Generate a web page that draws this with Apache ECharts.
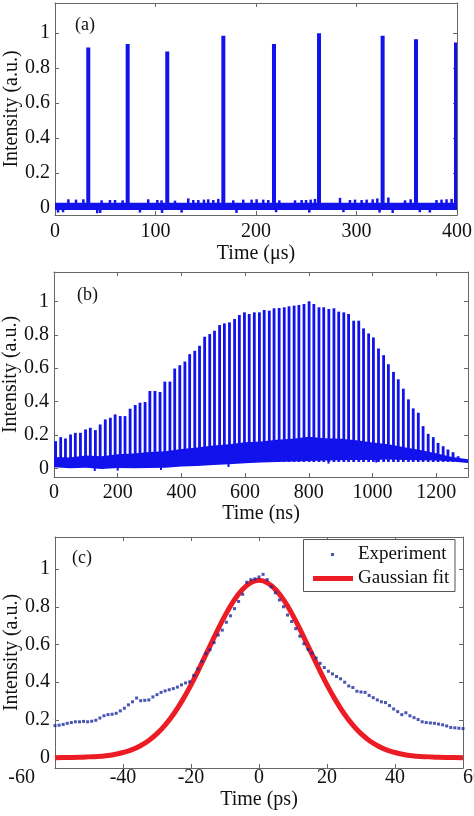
<!DOCTYPE html>
<html><head><meta charset="utf-8">
<script src="https://cdn.jsdelivr.net/npm/echarts@6/dist/echarts.min.js"></script>
<style>html,body{margin:0;padding:0;background:#fff}#c{width:474px;height:816px}</style>
</head><body><div id="c"></div>
<script>
// ---------------- Panel (a) data ----------------
const aXTicks = [0, 100, 200, 300, 400];
const aSpikeTime = [33.1, 72.3, 111.7, 167.5, 217.9, 262.7, 326.0, 359.2, 399.0];
const aSpikePeak = [0.918, 0.939, 0.895, 0.985, 0.939, 1.0, 0.985, 0.966, 0.947];
const aBand = [[0, 400, -0.012, 0.03]];
const aBumps = [[13.3,0.05],[20.9,0.048],[28.2,0.05],[46.4,0.044],[54.7,0.046],[59.7,0.046],[67.3,0.044],[92.8,0.05],[101.8,0.046],[106.0,0.044],[119.4,0.042],[132.6,0.055],[137.6,0.046],[142.6,0.046],[148.2,0.048],[152.5,0.05],[157.5,0.046],[162.5,0.052],[177.4,0.044],[187.3,0.048],[195.6,0.048],[200.6,0.05],[207.2,0.048],[212.2,0.046],[223.2,0.044],[238.8,0.044],[245.4,0.046],[249.8,0.046],[254.4,0.048],[258.7,0.052],[283.6,0.058],[293.5,0.046],[298.5,0.048],[305.1,0.046],[310.1,0.048],[316.1,0.05],[320.7,0.055],[331.7,0.06],[348.3,0.044],[353.9,0.05],[379.6,0.046],[384.6,0.048],[389.6,0.05],[394.6,0.052]];
const aDips = [[3,-0.026],[8,-0.024],[42,-0.03],[45,-0.028],[84.5,-0.026],[106.5,-0.028],[126,-0.026],[180.6,-0.028],[220,-0.024],[253,-0.026],[287,-0.024],[323,-0.026],[336,-0.028],[363,-0.024],[373,-0.026]];

// ---------------- Panel (b) data ----------------
const bXTicks = [0, 200, 400, 600, 800, 1000, 1200];
const bPulseTime = [5,21,36,52,67,83,99,114,130,145,161,177,192,208,223,239,255,270,286,301,317,333,348,364,379,395,411,426,442,457,473,489,504,520,535,551,567,582,598,613,629,645,660,676,691,707,723,738,754,769,785,801,816,832,847,863,879,894,910,925,941,957,972,988,1003,1019,1035,1050,1066,1081,1097,1113,1128,1144,1159,1175,1191,1206,1222,1237,1253,1269];
const bPulsePeak = [0.164,0.188,0.18,0.204,0.214,0.214,0.234,0.244,0.23,0.264,0.294,0.304,0.324,0.314,0.314,0.358,0.38,0.394,0.398,0.464,0.464,0.458,0.52,0.52,0.598,0.618,0.64,0.684,0.704,0.734,0.788,0.804,0.824,0.858,0.868,0.874,0.894,0.918,0.934,0.924,0.934,0.934,0.948,0.944,0.958,0.96,0.964,0.97,0.974,0.978,0.984,1.0,0.984,0.964,0.964,0.954,0.958,0.938,0.934,0.924,0.884,0.884,0.838,0.808,0.784,0.718,0.678,0.624,0.578,0.534,0.478,0.414,0.36,0.334,0.254,0.208,0.188,0.154,0.134,0.114,0.098,0.074];
const bEnvT = [0,50,100,150,200,250,300,350,400,450,500,550,600,650,700,750,800,850,900,950,1000,1050,1100,1150,1200,1250,1300];
const bEnvLow = [0.008,0.002,0.006,-0.002,0.004,0.002,0.004,0.006,0.012,0.016,0.022,0.026,0.032,0.036,0.04,0.042,0.046,0.048,0.05,0.052,0.052,0.054,0.052,0.05,0.048,0.042,0.034];
const bEnvHigh = [0.07,0.066,0.078,0.074,0.086,0.09,0.1,0.104,0.118,0.126,0.138,0.146,0.158,0.162,0.172,0.178,0.19,0.182,0.178,0.17,0.156,0.146,0.128,0.112,0.092,0.07,0.056];
const bDips = [[128,-0.014],[200,-0.012],[336,-0.008],[548,0.01],[862,0.03],[1012,0.036]];

// ---------------- Panel (c) data ----------------
const cXTicks = [-60, -40, -20, 0, 20, 40, 60];
const cExperiment = [[-60,0.170],[-58.8,0.172],[-57.6,0.176],[-56.4,0.182],[-55.2,0.186],[-54,0.19],[-52.8,0.19],[-51.6,0.192],[-50.4,0.19],[-49.2,0.193],[-48,0.198],[-46.8,0.21],[-45.6,0.222],[-44.4,0.228],[-43.2,0.23],[-42,0.235],[-40.8,0.248],[-39.6,0.262],[-38.4,0.28],[-37.2,0.296],[-36,0.316],[-34.8,0.302],[-33.6,0.304],[-32.4,0.306],[-31.2,0.322],[-30,0.334],[-28.8,0.346],[-27.6,0.354],[-26.4,0.36],[-25.2,0.366],[-24,0.374],[-22.8,0.386],[-21.6,0.396],[-20.4,0.402],[-19.2,0.436],[-18,0.47],[-16.8,0.51],[-15.6,0.552],[-14.4,0.572],[-13.2,0.61],[-12,0.65],[-10.8,0.676],[-9.6,0.718],[-8.4,0.752],[-7.2,0.79],[-6,0.828],[-4.8,0.866],[-3.6,0.93],[-2.4,0.944],[-1.2,0.948],[0,0.958],[1.2,0.972],[2.4,0.944],[3.6,0.906],[4.8,0.874],[6,0.836],[7.2,0.8],[8.4,0.756],[9.6,0.722],[10.8,0.684],[12,0.644],[13.2,0.604],[14.4,0.574],[15.6,0.554],[16.8,0.528],[18,0.5],[19.2,0.478],[20.4,0.458],[21.6,0.444],[22.8,0.43],[24,0.418],[25.2,0.4],[26.4,0.38],[27.6,0.372],[28.8,0.352],[30,0.348],[31.2,0.346],[32.4,0.33],[33.6,0.318],[34.8,0.306],[36,0.296],[37.2,0.292],[38.4,0.276],[39.6,0.258],[40.8,0.244],[42,0.228],[43.2,0.238],[44.4,0.222],[45.6,0.212],[46.8,0.202],[48,0.19],[49.2,0.186],[50.4,0.184],[51.6,0.182],[52.8,0.178],[54,0.174],[55.2,0.168],[56.4,0.16],[57.6,0.158],[58.8,0.156],[60,0.154]];
const cFit = [[-60,0.0],[-57.5,0.001],[-55,0.001],[-52.5,0.002],[-50,0.004],[-47.5,0.006],[-45,0.01],[-42.5,0.017],[-40,0.027],[-37.5,0.041],[-35,0.062],[-32.5,0.09],[-30,0.127],[-27.5,0.175],[-25,0.234],[-22.5,0.305],[-20,0.386],[-17.5,0.476],[-15,0.57],[-12.5,0.664],[-10,0.753],[-7.5,0.83],[-5,0.889],[-2.5,0.927],[0,0.94],[2.5,0.927],[5,0.889],[7.5,0.83],[10,0.753],[12.5,0.664],[15,0.57],[17.5,0.476],[20,0.386],[22.5,0.305],[25,0.234],[27.5,0.175],[30,0.127],[32.5,0.09],[35,0.062],[37.5,0.041],[40,0.027],[42.5,0.017],[45,0.01],[47.5,0.006],[50,0.004],[52.5,0.002],[55,0.001],[57.5,0.001],[60,0.0]];

const yTicks = [0, 0.2, 0.4, 0.6, 0.8, 1];
const xNames = ['Time (μs)', 'Time (ns)', 'Time (ps)'];
const yName = 'Intensity (a.u.)';
const panelLabels = ['(a)', '(b)', '(c)'];

// ---------------- styling / layout ----------------
const BLUE = '#1212ec';
const RED = '#ec1c24';
const DOT = '#1a2a9e';
const FRAME = '#666666';
const TEXT = '#111111';
const FONT = 'Liberation Serif';

const grids = [
  {left: 55, top: 3, width: 402, height: 212, outerBoundsMode: 'none', containLabel: false},
  {left: 54, top: 272, width: 414, height: 205, outerBoundsMode: 'none', containLabel: false},
  {left: 55, top: 537, width: 408, height: 231, outerBoundsMode: 'none', containLabel: false}
];
const xRange = [[0, 400], [0, 1300], [-60, 60]];
const yRange = [[-0.04, 1.173], [-0.05, 1.175], [-0.055, 1.17]];
const xTickSets = [aXTicks, bXTicks, cXTicks];
const xLabelMargin = [6.5, 6, 0];
const xNameGap = [29, 27, 22];

function xAxisCfg(i, top) {
  const edge = i === 2;
  return {
    type: 'value', gridIndex: i, position: top ? 'top' : 'bottom',
    min: xRange[i][0], max: xRange[i][1],
    axisLine: {show: true, onZero: false, lineStyle: {color: FRAME, width: 1}},
    axisTick: {show: true, inside: true, length: 4, lineStyle: {color: FRAME}, customValues: xTickSets[i]},
    axisLabel: {show: !top, customValues: xTickSets[i], margin: xLabelMargin[i], hideOverlap: false,
      alignMinLabel: edge ? 'right' : 'center', alignMaxLabel: edge ? 'left' : 'center',
      formatter: function (v) {
        if (edge && v === xRange[i][0]) return '{m|' + v + '}';
        return String(v);
      },
      rich: {m: {fontFamily: FONT, fontSize: 20, color: TEXT, padding: [0, 20, 0, 0]}},
      fontFamily: FONT, fontSize: 20, color: TEXT},
    splitLine: {show: false},
    name: top ? '' : xNames[i], nameLocation: 'middle', nameGap: xNameGap[i], nameMoveOverlap: false,
    nameTextStyle: {fontFamily: FONT, fontSize: 20, color: TEXT}
  };
}
function yAxisCfg(i, right) {
  return {
    type: 'value', gridIndex: i, position: right ? 'right' : 'left',
    min: yRange[i][0], max: yRange[i][1],
    axisLine: {show: true, onZero: false, lineStyle: {color: FRAME, width: 1}},
    axisTick: {show: true, inside: true, length: 4, lineStyle: {color: FRAME}, customValues: yTicks},
    axisLabel: {show: !right, customValues: yTicks, margin: 5, hideOverlap: false,
      formatter: function (v) { return String(Math.round(v * 10) / 10); },
      fontFamily: FONT, fontSize: 20, color: TEXT},
    splitLine: {show: false},
    name: right ? '' : yName, nameLocation: 'middle', nameGap: 33.5, nameMoveOverlap: false,
    nameTextStyle: {fontFamily: FONT, fontSize: 20, color: TEXT}
  };
}

function vbar(w, color) {
  return function (params, api) {
    const x = api.value(0), y0 = api.value(1), y1 = api.value(2);
    const a = api.coord([x, y0]), b = api.coord([x, y1]);
    return {type: 'rect', shape: {x: a[0] - w / 2, y: Math.min(a[1], b[1]), width: w, height: Math.abs(a[1] - b[1])},
      style: {fill: color}};
  };
}
function spanRect(params, api) {
  const a = api.coord([api.value(0), api.value(3)]);
  const b = api.coord([api.value(1), api.value(2)]);
  return {type: 'rect', shape: {x: a[0], y: a[1], width: b[0] - a[0], height: b[1] - a[1]}, style: {fill: BLUE}};
}
function envPolygon(params, api) {
  if (params.dataIndex !== 0) return null;
  const pts = [];
  for (let i = 0; i < bEnvT.length; i++) pts.push(api.coord([bEnvT[i], bEnvHigh[i]]));
  for (let i = bEnvT.length - 1; i >= 0; i--) pts.push(api.coord([bEnvT[i], bEnvLow[i]]));
  return {type: 'polygon', shape: {points: pts}, style: {fill: BLUE}};
}

const aBandBase = aBand[0][3] - 0.01;
const aSpikeData = aSpikeTime.map((t, i) => [t, 0.015, aSpikePeak[i]]);
const aBumpData = aBumps.map(d => [d[0], aBandBase, d[1]]);
const aDipData = aDips.map(d => [d[0], d[1], aBand[0][2] + 0.01]);
const bPulseData = bPulseTime.map((t, i) => [t, 0.04, bPulsePeak[i]]);
const bEnvData = bEnvT.map((t, i) => [t, bEnvLow[i], bEnvHigh[i]]);
const bDipData = bDips.map(d => [d[0], d[1], d[1] + 0.025]);

const chart = echarts.init(document.getElementById('c'), null, {renderer: 'canvas'});
chart.setOption({
  animation: false,
  backgroundColor: '#ffffff',
  grid: grids,
  xAxis: [xAxisCfg(0, false), xAxisCfg(1, false), xAxisCfg(2, false), xAxisCfg(0, true), xAxisCfg(1, true), xAxisCfg(2, true)],
  yAxis: [yAxisCfg(0, false), yAxisCfg(1, false), yAxisCfg(2, false), yAxisCfg(0, true), yAxisCfg(1, true), yAxisCfg(2, true)],
  legend: [
    {data: [{name: 'Experiment', icon: 'rect'}], left: 331, top: 545, padding: 0, itemWidth: 3, itemHeight: 3, selectedMode: false, z: 60,
      textStyle: {fontFamily: FONT, fontSize: 19, color: TEXT, padding: [0, 0, 0, 19]}},
    {data: [{name: 'Gaussian fit', icon: 'rect'}], left: 313, top: 569, padding: 0, itemWidth: 40, itemHeight: 5, selectedMode: false, z: 60,
      textStyle: {fontFamily: FONT, fontSize: 19, color: TEXT}}
  ],
  graphic: [
    {type: 'rect', z: 50, shape: {x: 303.5, y: 539.5, width: 151.5, height: 52}, style: {fill: '#fff', stroke: '#555', lineWidth: 1}},
    {type: 'text', z: 55, x: 75, y: 25, style: {text: panelLabels[0], fontFamily: FONT, fontSize: 18, fill: TEXT, verticalAlign: 'middle'}},
    {type: 'text', z: 55, x: 77, y: 295, style: {text: panelLabels[1], fontFamily: FONT, fontSize: 18, fill: TEXT, verticalAlign: 'middle'}},
    {type: 'text', z: 55, x: 72, y: 558, style: {text: panelLabels[2], fontFamily: FONT, fontSize: 18, fill: TEXT, verticalAlign: 'middle'}}
  ],
  series: [
    {type: 'custom', name: 'a-band', xAxisIndex: 0, yAxisIndex: 0, data: aBand, renderItem: spanRect, encode: {x: [0, 1], y: [2, 3]}, clip: true, silent: true},
    {type: 'custom', name: 'a-bumps', xAxisIndex: 0, yAxisIndex: 0, data: aBumpData, renderItem: vbar(2.5, BLUE), encode: {x: 0, y: [1, 2]}, clip: true, silent: true},
    {type: 'custom', name: 'a-dips', xAxisIndex: 0, yAxisIndex: 0, data: aDipData, renderItem: vbar(2.5, BLUE), encode: {x: 0, y: [1, 2]}, clip: true, silent: true},
    {type: 'custom', name: 'a-spikes', xAxisIndex: 0, yAxisIndex: 0, data: aSpikeData, renderItem: vbar(4, BLUE), encode: {x: 0, y: [1, 2]}, clip: true, silent: true},
    {type: 'custom', name: 'b-band', xAxisIndex: 1, yAxisIndex: 1, data: bEnvData, renderItem: envPolygon, encode: {x: 0, y: [1, 2]}, clip: true, silent: true},
    {type: 'custom', name: 'b-dips', xAxisIndex: 1, yAxisIndex: 1, data: bDipData, renderItem: vbar(2, BLUE), encode: {x: 0, y: [1, 2]}, clip: true, silent: true},
    {type: 'custom', name: 'b-pulses', xAxisIndex: 1, yAxisIndex: 1, data: bPulseData, renderItem: vbar(2.8, BLUE), encode: {x: 0, y: [1, 2]}, clip: true, silent: true},
    {type: 'line', name: 'Gaussian fit', xAxisIndex: 2, yAxisIndex: 2, data: cFit, smooth: 0.4, symbol: 'none', showSymbol: false,
      lineStyle: {color: RED, width: 5}, itemStyle: {color: RED}, z: 3},
    {type: 'scatter', name: 'Experiment', xAxisIndex: 2, yAxisIndex: 2, data: cExperiment, symbol: 'rect', symbolSize: 3,
      itemStyle: {color: DOT}, z: 4}
  ]
});
</script></body></html>
